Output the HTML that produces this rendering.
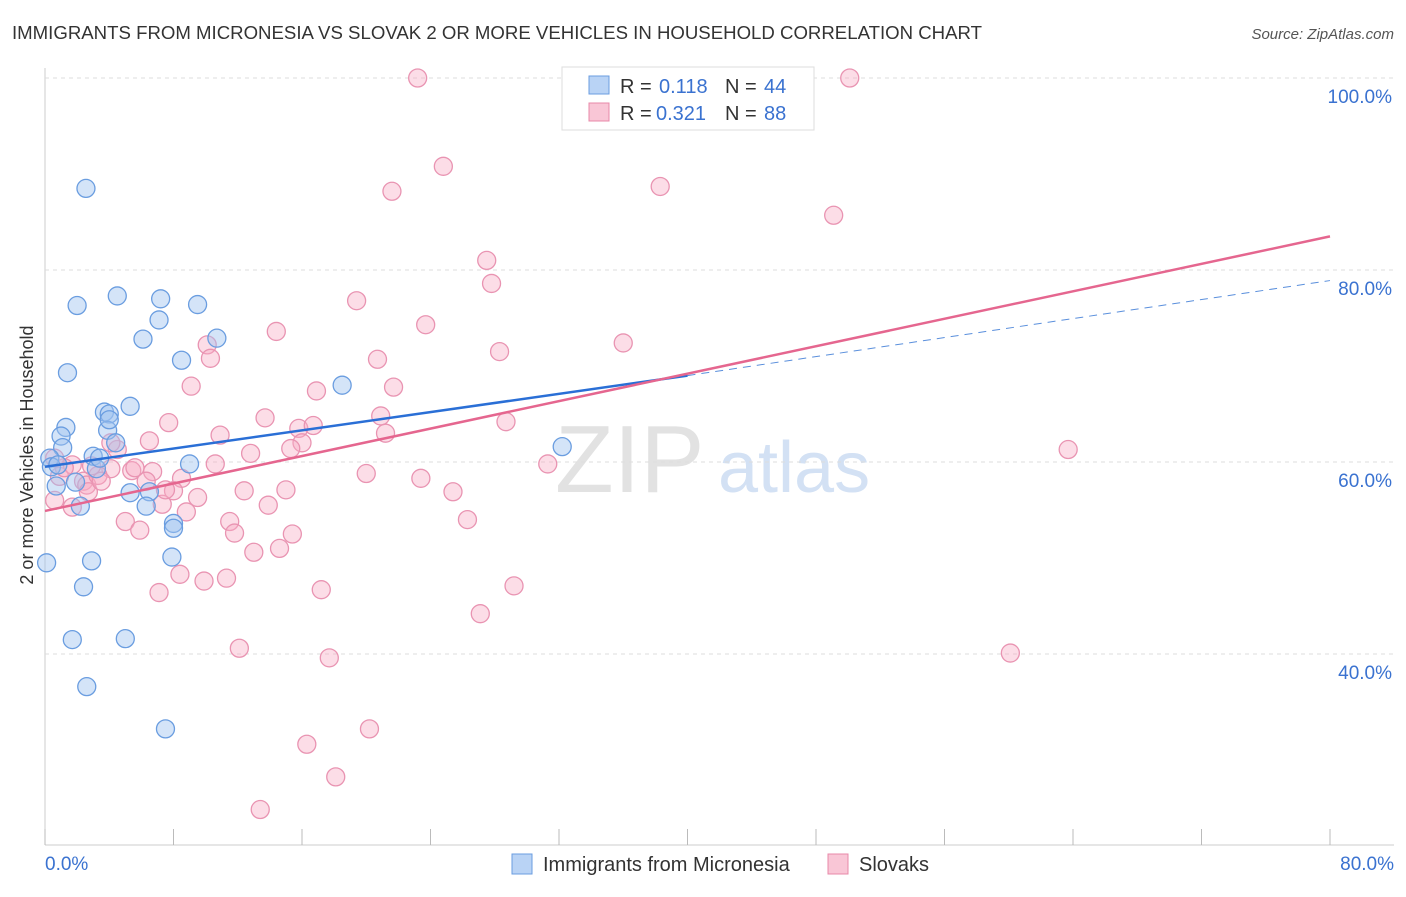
<!DOCTYPE html>
<html><head><meta charset="utf-8"><style>
body{margin:0;background:#fff;font-family:"Liberation Sans",sans-serif}
svg text{font-family:"Liberation Sans",sans-serif}
</style></head><body>
<svg id="chart" width="1406" height="892" xmlns="http://www.w3.org/2000/svg">
<text x="12" y="39" font-size="18" fill="#333" textLength="970" lengthAdjust="spacingAndGlyphs">IMMIGRANTS FROM MICRONESIA VS SLOVAK 2 OR MORE VEHICLES IN HOUSEHOLD CORRELATION CHART</text>
<text x="1394" y="39" font-size="15" fill="#555" text-anchor="end" font-style="italic">Source: ZipAtlas.com</text>
<text x="555" y="492" font-size="96" fill="#e2e2e2" font-family="Liberation Serif">ZIP</text>
<text x="718" y="492" font-size="72" fill="#d3e1f4">atlas</text>
<text transform="translate(33,455) rotate(-90)" font-size="18" fill="#333" text-anchor="middle">2 or more Vehicles in Household</text>
<g id="grid"></g><g id="marks"></g><g id="lines"></g>
<g>
<rect x="562" y="67" width="252" height="63" fill="#fff" stroke="#ddd"/>
<rect x="589" y="76" width="20" height="18" fill="#b9d3f5" stroke="#6a9de0"/>
<text x="620" y="93" font-size="20" fill="#333">R =</text>
<text x="659" y="93" font-size="20" fill="#3a72d0">0.118</text>
<text x="725" y="93" font-size="20" fill="#333">N =</text>
<text x="764" y="93" font-size="20" fill="#3a72d0">44</text>
<rect x="589" y="103" width="20" height="18" fill="#f9c6d6" stroke="#e888a8"/>
<text x="620" y="120" font-size="20" fill="#333">R =</text>
<text x="656" y="120" font-size="20" fill="#3a72d0">0.321</text>
<text x="725" y="120" font-size="20" fill="#333">N =</text>
<text x="764" y="120" font-size="20" fill="#3a72d0">88</text>
</g>
<g>
<rect x="512" y="854" width="20" height="20" fill="#b9d3f5" stroke="#6a9de0"/>
<text x="543" y="871" font-size="20" fill="#333">Immigrants from Micronesia</text>
<rect x="828" y="854" width="20" height="20" fill="#f9c6d6" stroke="#e888a8"/>
<text x="859" y="871" font-size="20" fill="#333">Slovaks</text>
</g>
</svg>
<script>
const yTicks=[40,60,80,100];
const xTickVals=[0,8,16,24,32,40,48,56,64,72,80];
const blueX=[2.55,2.0,4.5,7.2,9.5,7.1,6.1,10.7,8.5,1.4,18.5,5.3,3.7,4.0,1.3,1.0,3.9,1.1,4.4,3.0,0.3,0.4,0.8,3.2,9.0,1.9,5.3,6.5,2.2,6.3,8.0,8.0,7.9,2.9,0.1,2.4,1.7,5.0,2.6,7.5,32.2,0.7,4.0,3.4];
const blueY=[88.5,76.3,77.3,77.0,76.4,74.8,72.8,72.9,70.6,69.3,68.0,65.8,65.2,65.0,63.6,62.7,63.3,61.5,62.0,60.6,60.4,59.5,59.7,59.3,59.8,57.9,56.8,56.9,55.4,55.4,53.6,53.1,50.1,49.7,49.5,47.0,41.5,41.6,36.6,32.2,61.6,57.5,64.4,60.4];
const pinkX=[23.2,37.8,50.1,24.8,21.6,38.3,49.1,27.5,27.8,19.4,14.4,23.7,36.0,28.3,10.1,10.3,20.7,9.1,16.9,21.7,7.7,13.7,15.8,16.7,20.9,28.7,10.9,21.2,16.0,15.3,12.8,4.5,1.7,4.1,5.4,6.7,5.6,10.6,31.3,63.7,20.0,23.4,0.9,2.4,2.6,3.3,6.3,8.5,2.7,8.0,9.5,12.4,15.0,7.3,8.8,13.9,25.4,5.0,5.9,11.5,11.8,15.4,26.3,0.6,1.7,13.0,14.6,8.4,9.9,11.3,7.1,17.2,29.2,27.1,12.1,17.7,60.1,16.3,20.2,18.1,13.4,4.1,3.5,6.5,2.9,1.2,0.6,7.5];
const pinkY=[100,100,100,90.8,88.2,88.7,85.7,81.0,78.6,76.8,73.6,74.3,72.4,71.5,72.2,70.8,70.7,67.9,67.4,67.8,64.1,64.6,63.5,63.8,64.8,64.2,62.8,63.0,62.0,61.4,60.9,61.3,59.7,59.3,59.1,59.0,59.4,59.8,59.8,61.3,58.8,58.3,58.5,58.0,57.6,58.6,58.0,58.3,56.9,57.0,56.3,57.0,57.1,55.6,54.8,55.5,56.9,53.8,52.9,53.8,52.6,52.5,54.0,56.0,55.3,50.6,51.0,48.3,47.6,47.9,46.4,46.7,47.1,44.2,40.6,39.6,40.1,30.6,32.2,27.2,23.8,62.0,58.0,62.2,59.6,59.4,60.4,57.1];
const blueFit=[[0,59.5],[40,69.0],[80,78.9]];
const pinkFit=[[0,54.9],[80,83.5]];
const X=v=>45+v/80*1285, Y=v=>78+(100-v)*9.6;
const NS="http://www.w3.org/2000/svg";
function mk(t,a,p){const e=document.createElementNS(NS,t);for(const k in a)e.setAttribute(k,a[k]);p.appendChild(e);return e;}
const grid=document.getElementById('grid'),marks=document.getElementById('marks'),lines=document.getElementById('lines');
mk('line',{x1:45,y1:68,x2:45,y2:845,stroke:'#ccc'},grid);
mk('line',{x1:45,y1:845,x2:1394,y2:845,stroke:'#ccc'},grid);
yTicks.forEach(v=>{
 const l=mk('line',{x1:45,y1:Y(v),x2:1394,y2:Y(v),stroke:'#ddd','stroke-dasharray':'4,4'},grid);
 
 
 const t=mk('text',{x:1392,y:Y(v)+25,'font-size':19,fill:'#3a72d0','text-anchor':'end'},grid);
 t.textContent=v.toFixed(1)+'%';
 
 
});
xTickVals.forEach(v=>{
 const l=mk('line',{x1:X(v),y1:829,x2:X(v),y2:845,stroke:'#bbb'},grid);
 
 
});
[[0,'0.0%','start',45],[80,'80.0%','end',1394]].forEach(([v,s,a,x])=>{
 const t=mk('text',{x:x,y:870,'font-size':19,fill:'#3a72d0','text-anchor':a},grid);t.textContent=s;
 
 
});
pinkX.forEach((x,i)=>{
 const c=mk('circle',{cx:X(x),cy:Y(pinkY[i]),r:9,fill:'rgba(247,170,195,0.4)',stroke:'#e994b2','stroke-width':1.3},marks);
 
 
});
blueX.forEach((x,i)=>{
 const c=mk('circle',{cx:X(x),cy:Y(blueY[i]),r:9,fill:'rgba(160,195,240,0.45)',stroke:'#6a9de0','stroke-width':1.3},marks);
 
 
});
let b=mk('line',{x1:X(blueFit[0][0]),y1:Y(blueFit[0][1]),x2:X(blueFit[1][0]),y2:Y(blueFit[1][1]),stroke:'#2a6fd6','stroke-width':2.5},lines);


let bd=mk('line',{x1:X(blueFit[1][0]),y1:Y(blueFit[1][1]),x2:X(blueFit[2][0]),y2:Y(blueFit[2][1]),stroke:'#5a8fdc','stroke-width':1,'stroke-dasharray':'8,6'},lines);


let p=mk('line',{x1:X(pinkFit[0][0]),y1:Y(pinkFit[0][1]),x2:X(pinkFit[1][0]),y2:Y(pinkFit[1][1]),stroke:'#e5668f','stroke-width':2.5},lines);


</script>
</body></html>
